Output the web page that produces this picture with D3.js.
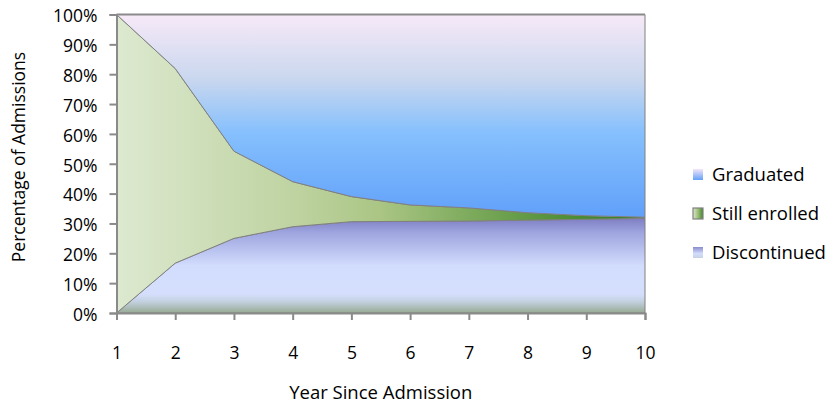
<!DOCTYPE html>
<html>
<head>
<meta charset="utf-8">
<script src="https://cdn.jsdelivr.net/npm/d3@7/dist/d3.min.js"></script>
<style>
  html, body { margin: 0; padding: 0; background: #ffffff; }
  svg { display: block; }
  text { font-family: "Open Sans", Lato, sans-serif; fill: #000; }
</style>
</head>
<body>
<svg id="chart" width="833" height="406"></svg>
<script>
// Years since admission
const years = [1, 2, 3, 4, 5, 6, 7, 8, 9, 10];
// Share of each admission cohort (%) by status
const discontinued  = [0, 16.7, 25.0, 28.9, 30.6, 30.7, 30.8, 31.1, 31.4, 31.7];
const stillEnrolled = [100, 65.2, 29.2, 15.1, 8.4, 5.5, 4.4, 2.5, 1.2, 0.4];
const graduated     = [0, 18.1, 45.8, 56.0, 61.0, 63.8, 64.8, 66.4, 67.4, 67.9];
const seriesNames = ["Discontinued", "Still enrolled", "Graduated"];
const legendOrder = ["Graduated", "Still enrolled", "Discontinued"];
const yTicks = [0, 10, 20, 30, 40, 50, 60, 70, 80, 90, 100];

const rows = years.map((y, i) => ({
  year: y,
  "Discontinued": discontinued[i],
  "Still enrolled": stillEnrolled[i],
  "Graduated": graduated[i]
}));

const svg = d3.select("#chart");
const x = d3.scaleLinear().domain([1, 10]).range([116.5, 645]);
const y = d3.scaleLinear().domain([0, 100]).range([313, 14.5]);

const defs = svg.append("defs");
function gradient(id, dir, stops) {
  const g = defs.append("linearGradient").attr("id", id)
    .attr("x1", 0).attr("y1", 0)
    .attr("x2", dir === "h" ? 1 : 0).attr("y2", dir === "h" ? 0 : 1);
  stops.forEach(([o, c]) => g.append("stop").attr("offset", o).attr("stop-color", c));
}
gradient("g-grad", "v", [[0, "#f7e9f8"], [0.32, "#c9d7ee"], [0.58, "#86c0fd"], [1, "#61a0fa"]]);
gradient("g-enr", "h", [[0, "#dde9d0"], [0.35, "#bdd29f"], [0.5, "#aac584"], [0.68, "#7aa95a"], [0.82, "#57933c"], [1, "#2e7e1e"]]);
gradient("g-dis", "v", [[0, "#7f7fc3"], [0.15, "#9ea5df"], [0.5, "#d2dcfd"], [0.8, "#d5dffd"], [0.88, "#c3d0df"], [1, "#97ab94"]]);
const fills = { "Graduated": "url(#g-grad)", "Still enrolled": "url(#g-enr)", "Discontinued": "url(#g-dis)" };

const stack = d3.stack().keys(seriesNames);
const layers = stack(rows);
const area = d3.area()
  .x(d => x(d.data.year))
  .y0(d => y(d[0]))
  .y1(d => y(d[1]));

svg.append("g").selectAll("path")
  .data(layers)
  .join("path")
  .attr("d", area)
  .attr("fill", d => fills[d.key])
  .attr("stroke", "#808080")
  .attr("stroke-width", 1)
  .attr("stroke-linejoin", "round");

// Top edge of the plot
svg.append("line")
  .attr("x1", x.range()[0]).attr("x2", x.range()[1])
  .attr("y1", y(100)).attr("y2", y(100))
  .attr("stroke", "#8a8a8a").attr("stroke-width", 2);

// Axes
const yAxis = svg.append("g")
  .attr("transform", `translate(${x.range()[0]},0)`)
  .call(d3.axisLeft(y).tickValues(yTicks).tickSize(7).tickPadding(12).tickFormat(d => d + "%"));
const xAxis = svg.append("g")
  .attr("transform", `translate(0,${y(0)})`)
  .call(d3.axisBottom(x).tickValues(years).tickSize(7).tickPadding(27).tickFormat(d3.format("d")));

[yAxis, xAxis].forEach(a => {
  a.select(".domain").attr("stroke", "#8a8a8a").attr("stroke-width", 2);
  a.selectAll(".tick line").attr("stroke", "#8a8a8a").attr("stroke-width", 2);
  a.selectAll(".tick text").attr("font-family", "'Open Sans', sans-serif").attr("font-size", 17.5).attr("fill", "#000");
});
yAxis.selectAll(".tick text").attr("dy", "0.42em");

// Axis titles
svg.append("text")
  .attr("x", (x.range()[0] + x.range()[1]) / 2)
  .attr("y", 399)
  .attr("text-anchor", "middle")
  .attr("font-size", 18.5)
  .text("Year Since Admission");
svg.append("text")
  .attr("transform", "translate(25,157) rotate(-90)")
  .attr("text-anchor", "middle")
  .attr("font-size", 17.5)
  .text("Percentage of Admissions");

// Legend
gradient("l-grad", "v", [[0, "#f4e6f7"], [1, "#62a1fa"]]);
gradient("l-enr", "h", [[0, "#dbe8cd"], [0.5, "#9fbe78"], [1, "#3c8a2b"]]);
gradient("l-dis", "v", [[0, "#8a8dcc"], [0.6, "#d3ddfd"], [1, "#c5d3e5"]]);
const legendFills = { "Graduated": "url(#l-grad)", "Still enrolled": "url(#l-enr)", "Discontinued": "url(#l-dis)" };
const legend = svg.append("g").selectAll("g")
  .data(legendOrder)
  .join("g")
  .attr("transform", (d, i) => `translate(693,${169 + i * 39})`);
legend.append("rect")
  .attr("width", 10).attr("height", 11)
  .attr("fill", d => legendFills[d])
  .attr("stroke", d => d === "Still enrolled" ? "#808080" : "none")
  .attr("stroke-width", 1.2);
legend.append("text")
  .attr("x", 19).attr("y", 12)
  .attr("font-size", 18.5)
  .text(d => d);
</script>
</body>
</html>
